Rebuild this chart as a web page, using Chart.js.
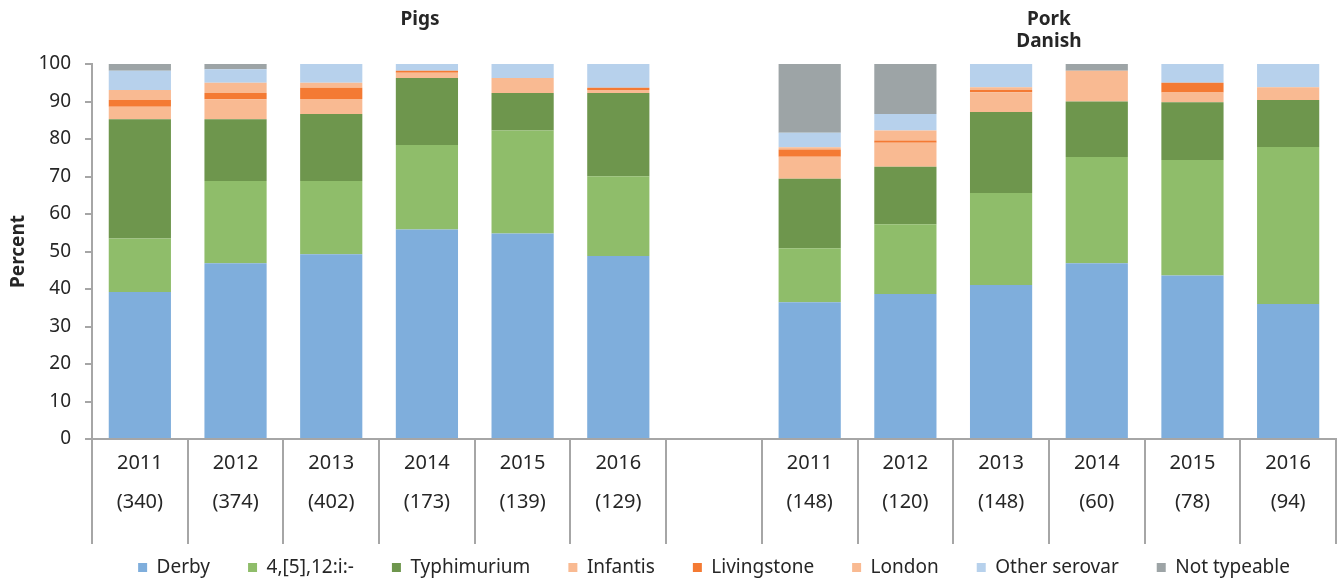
<!DOCTYPE html>
<html>
<head>
<meta charset="utf-8">
<script src="https://cdn.jsdelivr.net/npm/chart.js@4/dist/chart.umd.min.js"></script>
<style>
  html, body { margin: 0; padding: 0; background: #fff; }
  #wrap { width: 1339px; height: 583px; position: relative; }
</style>
</head>
<body>
<div id="wrap"><canvas id="serovarChart"></canvas></div>
<script>
// categories: 6 pig years, an empty spacer, 6 Danish pork years
const years = ["2011", "2012", "2013", "2014", "2015", "2016", "", "2011", "2012", "2013", "2014", "2015", "2016"];
const counts = ["(340)", "(374)", "(402)", "(173)", "(139)", "(129)", "", "(148)", "(120)", "(148)", "(60)", "(78)", "(94)"];

const serovarNames = ["Derby", "4,[5],12:i:-", "Typhimurium", "Infantis", "Livingstone", "London", "Other serovar", "Not typeable"];

// percent of isolates per serovar
const derby       = [39.2, 46.9, 49.3, 55.9, 54.8, 48.8, null, 36.5, 38.7, 41.1, 46.9, 43.6, 36.0];
const monophasic  = [14.3, 21.9, 19.5, 22.5, 27.5, 21.3, null, 14.4, 18.6, 24.5, 28.3, 30.8, 41.9];
const typhimurium = [31.8, 16.5, 17.9, 17.9, 10.0, 22.2, null, 18.5, 15.3, 21.6, 14.8, 15.4, 12.5];
const infantis    = [3.3, 5.3, 4.0, 1.4, 4.0, 0.8, null, 5.9, 6.4, 5.3, 8.2, 2.6, 3.4];
const livingstone = [1.8, 1.7, 3.0, 0.5, 0, 0.6, null, 1.9, 0.6, 0.6, 0, 2.6, 0];
const london      = [2.7, 2.7, 1.3, 0, 0, 0, null, 0.6, 2.7, 0.7, 0, 0, 0];
const otherSerovar = [5.1, 3.6, 5.0, 1.8, 3.7, 6.3, null, 3.9, 4.4, 6.2, 0, 5.0, 6.2];
const notTypeable = [1.8, 1.4, 0, 0, 0, 0, null, 18.3, 13.3, 0, 1.8, 0, 0];

const serovarColors = ["#7faedc", "#8fbd6a", "#6e964d", "#f9ba92", "#f47a33", "#f9ba92", "#b7d1ec", "#9da4a6"];

const groupTitles = ["Pigs", ["Pork", "Danish"]];

const textColor = "#262626";
const axisColor = "#a6a6a6";
const fontFamily = "'Noto Sans', sans-serif";

/* =========================
   group titles above bars
========================= */
const groupTitlePlugin = {
    id: "groupTitles",
    afterDraw(chart) {
        const ctx = chart.ctx;
        const x = chart.scales.x;

        ctx.save();
        ctx.fillStyle = textColor;
        ctx.font = "bold 19px " + fontFamily;
        ctx.textAlign = "center";
        ctx.textBaseline = "middle";

        ctx.fillText(groupTitles[0], x.getPixelForValue(3) - 7, 20);

        const porkX = (x.getPixelForValue(9) + x.getPixelForValue(10)) / 2;
        ctx.fillText(groupTitles[1][0], porkX, 20);
        ctx.fillText(groupTitles[1][1], porkX, 42);
        ctx.restore();
    }
};

const seriesValues = [derby, monophasic, typhimurium, infantis, livingstone, london, otherSerovar, notTypeable];

const datasets = serovarNames.map((name, i) => ({
    label: name,
    data: seriesValues[i],
    backgroundColor: serovarColors[i],
    borderWidth: 0,
    categoryPercentage: 0.65,
    barPercentage: 1
}));

const labels = years.map((y, i) => [y, counts[i]]);

Chart.defaults.font.family = fontFamily;
Chart.defaults.color = textColor;

new Chart(document.getElementById("serovarChart"), {
    type: "bar",
    data: {
        labels: labels,
        datasets: datasets
    },
    options: {
        responsive: true,
        maintainAspectRatio: false,
        animation: false,
        layout: {
            padding: { top: 64, right: 3, bottom: -4, left: 0 }
        },
        scales: {
            x: {
                stacked: true,
                grid: {
                    offset: true,
                    drawOnChartArea: false,
                    tickLength: 105,
                    color: axisColor,
                    lineWidth: 2
                },
                border: { color: axisColor, width: 2 },
                ticks: {
                    autoSkip: false,
                    maxRotation: 0,
                    padding: -100,
                    font: { size: 20, lineHeight: 1.95 },
                    color: textColor
                },
                afterFit(scale) {
                    scale.height = 81;
                }
            },
            y: {
                stacked: true,
                min: 0,
                max: 100,
                ticks: {
                    stepSize: 10,
                    padding: 14,
                    font: { size: 19 },
                    color: textColor
                },
                grid: {
                    drawOnChartArea: false,
                    tickLength: 7,
                    color: axisColor,
                    lineWidth: 2
                },
                border: { color: axisColor, width: 2 },
                title: {
                    display: true,
                    text: "Percent",
                    font: { size: 19, weight: "bold" },
                    color: textColor,
                    padding: 7
                },
                afterFit(scale) {
                    scale.width = 92;
                }
            }
        },
        plugins: {
            legend: {
                position: "bottom",
                fullSize: false,
                labels: {
                    boxWidth: 9,
                    boxHeight: 9,
                    padding: 38,
                    font: { size: 19 },
                    color: textColor
                }
            },
            tooltip: { enabled: false }
        }
    },
    plugins: [groupTitlePlugin]
});
</script>
</body>
</html>
